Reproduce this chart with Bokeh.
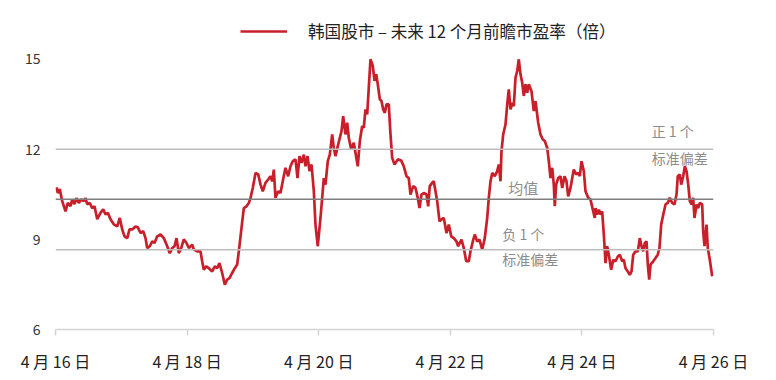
from bokeh.plotting import figure
from bokeh.models import Range1d, FixedTicker, Span, Label, Legend, LegendItem, ColumnDataSource
from bokeh.embed import file_html
from bokeh.resources import INLINE

# ---- data (decimal year, forward 12m P/E) ----
years = [
    2016.015, 2016.035, 2016.065, 2016.102, 2016.152, 2016.187, 2016.228, 2016.254, 2016.289, 2016.319,
    2016.354, 2016.391, 2016.430, 2016.456, 2016.482, 2016.521, 2016.558, 2016.593, 2016.634, 2016.684,
    2016.725, 2016.760, 2016.795, 2016.836, 2016.886, 2016.938, 2016.977, 2017.014, 2017.049, 2017.090,
    2017.125, 2017.166, 2017.216, 2017.251, 2017.292, 2017.333, 2017.368, 2017.394, 2017.433, 2017.470,
    2017.505, 2017.546, 2017.596, 2017.646, 2017.698, 2017.737, 2017.774, 2017.809, 2017.839, 2017.874,
    2017.910, 2017.950, 2017.991, 2018.026,
    2018.078, 2018.102, 2018.153, 2018.204, 2018.229, 2018.254, 2018.290, 2018.330, 2018.381, 2018.421,
    2018.457, 2018.492, 2018.533, 2018.573, 2018.609, 2018.644, 2018.685, 2018.725, 2018.761, 2018.786,
    2018.827, 2018.862, 2018.903, 2018.938, 2018.964, 2018.998, 2019.040, 2019.081, 2019.116, 2019.150,
    2019.191, 2019.232, 2019.267, 2019.293, 2019.318, 2019.343, 2019.384, 2019.419, 2019.454, 2019.495,
    2019.536, 2019.571, 2019.606, 2019.647, 2019.678, 2019.708, 2019.739, 2019.774, 2019.799, 2019.830,
    2019.860, 2019.891, 2019.926, 2019.951, 2019.986, 2020.027,
    2020.078, 2020.103, 2020.138, 2020.169, 2020.205, 2020.229, 2020.255, 2020.290, 2020.321, 2020.347,
    2020.372, 2020.407, 2020.433, 2020.457, 2020.494, 2020.533, 2020.559, 2020.594, 2020.625, 2020.661,
    2020.685, 2020.711, 2020.737, 2020.761, 2020.787, 2020.822, 2020.848, 2020.874, 2020.898, 2020.929,
    2020.954, 2020.980, 2021.005, 2021.030, 2021.065, 2021.091, 2021.117, 2021.152, 2021.202, 2021.254,
    2021.293, 2021.334, 2021.369, 2021.395, 2021.436, 2021.471, 2021.506, 2021.532, 2021.562, 2021.597,
    2021.638, 2021.664, 2021.688, 2021.725, 2021.749, 2021.775, 2021.801, 2021.836, 2021.866, 2021.901,
    2021.942, 2021.977, 2022.014, 2022.053, 2022.094, 2022.120,
    2022.129, 2022.170, 2022.205, 2022.242, 2022.281, 2022.307, 2022.342, 2022.372, 2022.409, 2022.444,
    2022.485, 2022.524, 2022.561, 2022.585, 2022.611, 2022.637, 2022.676, 2022.713, 2022.737, 2022.763,
    2022.778, 2022.804, 2022.839, 2022.865, 2022.889, 2022.915, 2022.941, 2022.965, 2022.991, 2023.017,
    2023.041, 2023.067, 2023.093, 2023.117, 2023.143, 2023.169, 2023.193, 2023.234, 2023.269, 2023.295,
    2023.336, 2023.371, 2023.406, 2023.436, 2023.473, 2023.497, 2023.523, 2023.549, 2023.573, 2023.588,
    2023.609, 2023.640, 2023.675, 2023.701, 2023.736, 2023.766, 2023.792, 2023.827, 2023.853, 2023.877,
    2023.913, 2023.944, 2023.968, 2023.994, 2024.029, 2024.055, 2024.096, 2024.131, 2024.166, 2024.196,
    2024.207, 2024.232, 2024.257, 2024.283, 2024.308, 2024.333, 2024.359, 2024.384, 2024.409, 2024.445,
    2024.476, 2024.511, 2024.546, 2024.576, 2024.612, 2024.637, 2024.663, 2024.698, 2024.728, 2024.754,
    2024.780, 2024.815, 2024.850, 2024.880, 2024.906, 2024.932, 2024.956, 2024.982, 2025.002, 2025.023,
    2025.043, 2025.084, 2025.119, 2025.153, 2025.179, 2025.205, 2025.236, 2025.271, 2025.305, 2025.336,
    2025.372, 2025.407, 2025.438, 2025.457, 2025.488, 2025.509, 2025.540, 2025.564, 2025.590, 2025.616,
    2025.640, 2025.666, 2025.691, 2025.711, 2025.742, 2025.767, 2025.792, 2025.828, 2025.843, 2025.863,
    2025.894, 2025.913, 2025.944, 2025.980,
]
pe = [
    10.73, 10.54, 10.67, 10.27, 9.93, 10.21, 10.10, 10.33, 10.17, 10.37,
    10.21, 10.33, 10.27, 10.37, 10.17, 10.21, 10.04, 10.10, 9.67, 9.88,
    10.00, 9.83, 9.88, 9.67, 9.50, 9.43, 9.71, 9.33, 9.10, 9.04,
    9.33, 9.33, 9.43, 9.40, 9.21, 9.27, 9.04, 8.71, 8.77, 8.93,
    8.88, 9.10, 9.16, 9.04, 8.77, 8.54, 8.71, 8.77, 9.04, 8.54,
    8.71, 9.00, 8.88, 8.71,
    8.82, 8.66, 8.60, 8.60, 8.27, 7.99, 8.10, 8.04, 7.93, 8.10,
    8.04, 8.21, 7.88, 7.49, 7.66, 7.71, 7.88, 8.04, 8.16, 8.60,
    9.38, 10.04, 10.10, 10.21, 10.38, 10.71, 11.21, 11.16, 10.82, 10.60,
    10.88, 10.99, 11.10, 10.93, 11.32, 10.38, 10.60, 10.54, 10.93, 11.38,
    11.10, 11.43, 11.60, 11.66, 11.04, 11.77, 11.54, 11.82, 11.43, 11.77,
    11.27, 11.49, 10.60, 9.49, 8.77, 9.71,
    11.04, 10.82, 11.60, 11.82, 12.49, 12.04, 11.77, 12.10, 12.38, 12.60,
    13.10, 12.49, 12.88, 12.38, 11.99, 12.21, 11.88, 11.43, 12.27, 12.77,
    12.71, 13.32, 13.16, 14.04, 14.99, 14.77, 14.27, 14.49, 14.16, 13.66,
    13.60, 13.32, 13.21, 13.49, 13.49, 12.49, 11.71, 11.49, 11.66, 11.62,
    11.43, 11.10, 11.04, 10.49, 10.77, 10.71, 10.38, 10.04, 10.49, 10.54,
    10.49, 10.10, 10.77, 10.88, 10.93, 10.60, 10.27, 9.60, 9.66, 9.71,
    9.21, 9.49, 9.10, 9.04, 8.93, 8.77,
    8.82, 8.99, 8.71, 8.27, 8.27, 8.60, 8.93, 9.16, 8.93, 8.99,
    8.66, 9.04, 9.71, 10.38, 10.93, 11.21, 11.10, 11.27, 11.49, 10.93,
    11.93, 12.49, 12.82, 13.49, 13.99, 13.32, 13.54, 13.43, 14.38, 14.60,
    14.99, 14.49, 14.21, 13.77, 14.16, 13.88, 14.16, 13.93, 13.27, 13.60,
    12.88, 12.49, 12.32, 12.27, 12.04, 11.60, 11.04, 11.38, 10.82, 10.10,
    10.82, 11.04, 11.10, 10.71, 11.10, 10.93, 10.43, 10.71, 11.04, 11.32,
    11.16, 11.21, 11.10, 11.60, 11.27, 10.60, 10.38, 10.32, 9.99, 9.71,
    10.04, 9.82, 9.99, 9.82, 9.93, 9.16, 8.21, 8.77, 8.49, 7.99,
    8.32, 8.27, 8.43, 8.49, 8.27, 8.32, 8.04, 7.93, 7.82, 7.93,
    8.49, 8.60, 8.60, 9.04, 8.77, 8.60, 8.88, 8.93, 8.16, 7.66,
    8.16, 8.27, 8.38, 8.49, 8.71, 9.49, 9.82, 10.16, 10.21, 10.38,
    10.21, 10.16, 10.49, 11.10, 11.16, 10.82, 11.10, 11.43, 11.27, 10.82,
    10.27, 10.16, 10.38, 9.71, 10.16, 10.04, 10.21, 10.16, 9.27, 8.77,
    9.49, 8.71, 8.32, 7.77,
]

tick_years = [2016, 2018, 2020, 2022, 2024, 2026]
tick_labels = ["4 月 16 日", "4 月 18 日", "4 月 20 日", "4 月 22 日", "4 月 24 日", "4 月 26 日"]
y_ticks = [6, 9, 12, 15]

mean_pe = 10.33
upper_sd = 12.0
lower_sd = 8.65

series_label = "韩国股市 – 未来 12 个月前瞻市盈率（倍）"
ann_upper = ["正 1 个", "标准偏差"]
ann_mean = "均值"
ann_lower = ["负 1 个", "标准偏差"]

n = min(len(years), len(pe))
src = ColumnDataSource(dict(x=years[:n], y=pe[:n]))

CJK = "Noto Sans CJK SC"
RED = "#c81f2a"

p = figure(width=776, height=380, output_backend="svg", toolbar_location=None,
           x_range=Range1d(2016, 2026), y_range=Range1d(6, 16.68),
           min_border_left=55, min_border_right=63, min_border_top=8, min_border_bottom=51)
p.outline_line_color = None
p.xgrid.grid_line_color = None
p.ygrid.grid_line_color = None
p.background_fill_color = "white"
p.border_fill_color = "white"

# reference lines
p.add_layout(Span(location=upper_sd, dimension="width", line_color="#bdbdbd", line_width=1.5))
p.add_layout(Span(location=lower_sd, dimension="width", line_color="#bdbdbd", line_width=1.5))
p.add_layout(Span(location=mean_pe, dimension="width", line_color="#7f7f7f", line_width=1.5))

r = p.line("x", "y", source=src, line_color=RED, line_width=2.7)

# axes
xa = p.xaxis[0]
xa.ticker = FixedTicker(ticks=tick_years)
xa.major_label_overrides = {t: l for t, l in zip(tick_years, tick_labels)}
xa.axis_line_color = "#d4d4d4"
xa.axis_line_width = 1.5
xa.major_tick_line_color = "#d4d4d4"
xa.major_tick_line_width = 1.5
xa.major_tick_in = 0
xa.major_tick_out = 6
xa.minor_tick_line_color = None
xa.major_label_standoff = 13
xa.major_label_text_font = CJK
xa.major_label_text_font_size = "16px"
xa.major_label_text_color = "#222222"

ya = p.yaxis[0]
ya.ticker = FixedTicker(ticks=y_ticks)
ya.axis_line_color = None
ya.major_tick_line_color = None
ya.minor_tick_line_color = None
ya.major_tick_in = 0
ya.major_tick_out = 0
ya.major_label_standoff = 15
ya.major_label_text_font = CJK
ya.major_label_text_font_size = "14px"
ya.major_label_text_color = "#333333"

# annotations
ann_style = dict(text_font=CJK, text_font_size="14px", text_color="#8c8c8c",
                 text_baseline="middle", text_align="left")
p.add_layout(Label(x=2025.06, y=12.60, text=ann_upper[0], **ann_style))
p.add_layout(Label(x=2025.06, y=11.70, text=ann_upper[1], **ann_style))
p.add_layout(Label(x=2022.88, y=10.71, text=ann_mean, **dict(ann_style, text_font_size="15px")))
p.add_layout(Label(x=2022.79, y=9.19, text=ann_lower[0], **ann_style))
p.add_layout(Label(x=2022.79, y=8.34, text=ann_lower[1], **ann_style))

legend = Legend(items=[LegendItem(label=series_label, renderers=[r])],
                location=(185, 286), glyph_width=47, glyph_height=20, label_height=20,
                label_standoff=21, padding=0, margin=0, border_line_color=None,
                background_fill_alpha=0, label_text_font=CJK, label_text_font_size="16.6px",
                label_text_color="#222222", label_text_baseline="middle")
p.add_layout(legend)

open("out.html", "w").write(file_html(p, INLINE))
